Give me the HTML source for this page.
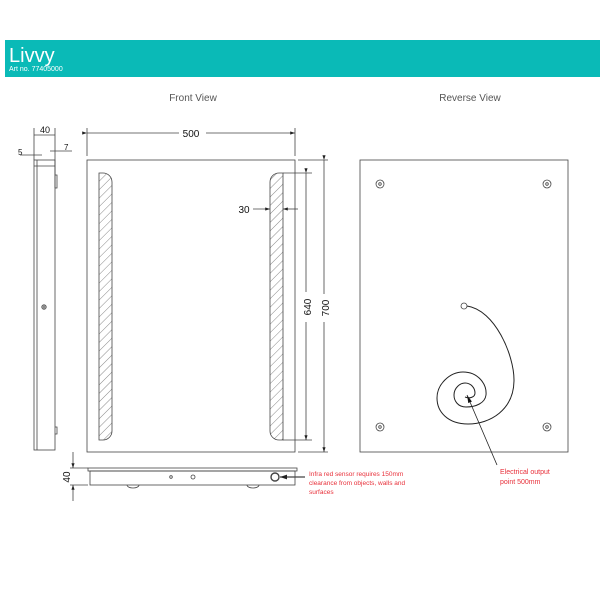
<!DOCTYPE html>
<html><head><style>
body{margin:0;width:600px;height:600px;background:#fff;overflow:hidden;font-family:"Liberation Sans",sans-serif}
</style></head><body>
<svg width="600" height="600" viewBox="0 0 600 600" xmlns="http://www.w3.org/2000/svg" font-family="Liberation Sans, sans-serif">
<defs>
<pattern id="h" width="6" height="6" patternUnits="userSpaceOnUse" patternTransform="rotate(45)">
<line x1="0" y1="0" x2="0" y2="6" stroke="#555" stroke-width="0.7"/></pattern>
<marker id="a" markerWidth="6" markerHeight="4" refX="6" refY="2" orient="auto"><path d="M0,0L6,2L0,4z" fill="#222"/></marker>
<marker id="b" markerWidth="10" markerHeight="5" refX="10" refY="2.5" orient="auto"><path d="M0,0L10,2.5L0,5z" fill="#111"/></marker>
</defs>
<rect x="5" y="40" width="595" height="37" fill="#0abab7"/>
<text x="9" y="62" font-size="20" fill="#fff">Livvy</text>
<text x="9" y="71" font-size="7" fill="#fff">Art no. 77405000</text>
<text x="193" y="101" font-size="10" fill="#555" text-anchor="middle">Front View</text>
<text x="470" y="101" font-size="10" fill="#555" text-anchor="middle">Reverse View</text>
<g stroke="#444" fill="none" stroke-width="0.8">
<rect x="34" y="160" width="21" height="290"/>
<line x1="37" y1="160" x2="37" y2="450"/>
<line x1="34" y1="166" x2="55" y2="166"/>
<path d="M55,175 h2 v13 h-2 M55,427 h2 v7 h-2"/>
<line x1="34" y1="128" x2="34" y2="160"/><line x1="55" y1="128" x2="55" y2="188"/>
<line x1="34" y1="135" x2="55" y2="135"/>
<line x1="20" y1="155" x2="42" y2="155"/><line x1="50" y1="151" x2="72" y2="151"/>
<circle cx="44" cy="307" r="2.2"/><path d="M42,307h4M44,305v4"/>
<rect x="87" y="160" width="208" height="292"/>
<path d="M99,173 h4 a9,9 0 0 1 9,9 v249 a9,9 0 0 1 -9,9 h-4 z" fill="url(#h)"/>
<path d="M283,173 h-4 a9,9 0 0 0 -9,9 v249 a9,9 0 0 0 9,9 h4 z" fill="url(#h)"/>
<line x1="87" y1="128" x2="87" y2="156"/><line x1="295" y1="128" x2="295" y2="156"/>
<line x1="87" y1="133" x2="179" y2="133" marker-start="url(#a)"/>
<line x1="206" y1="133" x2="295" y2="133" marker-end="url(#a)"/>
<line x1="283" y1="173" x2="312" y2="173"/><line x1="283" y1="440" x2="312" y2="440"/>
<line x1="306" y1="173" x2="306" y2="292" marker-start="url(#a)"/><line x1="306" y1="322" x2="306" y2="440" marker-end="url(#a)"/>
<line x1="298" y1="160" x2="328" y2="160"/><line x1="298" y1="452" x2="328" y2="452"/>
<line x1="324" y1="160" x2="324" y2="294" marker-start="url(#a)"/><line x1="324" y1="322" x2="324" y2="452" marker-end="url(#a)"/>
<line x1="253" y1="209" x2="270" y2="209" marker-end="url(#a)"/><line x1="298" y1="209" x2="283" y2="209" marker-end="url(#a)"/>
<rect x="88" y="468" width="209" height="3"/>
<rect x="90" y="471" width="205" height="14"/>
<path d="M127,485 a6,3 0 0 0 12,0 M247,485 a6,3 0 0 0 12,0"/>
<circle cx="171" cy="477" r="1.3"/><circle cx="193" cy="477" r="2"/>
<circle cx="275" cy="477" r="4" stroke-width="1.4"/>
<line x1="305" y1="477" x2="280" y2="477" marker-end="url(#a)" stroke-width="1.2"/>
<line x1="70" y1="468" x2="88" y2="468"/><line x1="70" y1="485" x2="88" y2="485"/>
<line x1="73" y1="452" x2="73" y2="468" marker-end="url(#a)"/><line x1="73" y1="501" x2="73" y2="485" marker-end="url(#a)"/>
<rect x="360" y="160" width="208" height="292"/>
<g><circle cx="380" cy="184" r="4"/><circle cx="380" cy="184" r="1.3"/>
<circle cx="547" cy="184" r="4"/><circle cx="547" cy="184" r="1.3"/>
<circle cx="380" cy="427" r="4"/><circle cx="380" cy="427" r="1.3"/>
<circle cx="547" cy="427" r="4"/><circle cx="547" cy="427" r="1.3"/></g>
<circle cx="464" cy="306" r="3"/>
<path d="M467,306 C495,310 514,355 514,380 C514,410 490,424 468,424 C448,424 437,412 437,398 C437,384 450,372 463,372 C478,372 487,384 486,395 C485,403 476,407 466,407 C458,407 454,401 454,395 C454,388 460,383 465,383 C471,383 475,388 475,393 C475,397 470,399 465,397" stroke="#222" stroke-width="1"/>
<line x1="497" y1="465" x2="467" y2="395" stroke="#222" marker-end="url(#b)"/>
</g>
<g font-size="10" fill="#111">
<text x="191" y="137" text-anchor="middle">500</text>
<text x="45" y="133" text-anchor="middle" font-size="9">40</text>
<text x="18" y="155" font-size="8">5</text>
<text x="64" y="150" font-size="8">7</text>
<text x="244" y="213" text-anchor="middle">30</text>
<text transform="translate(311,307) rotate(-90)" text-anchor="middle">640</text>
<text transform="translate(329,308) rotate(-90)" text-anchor="middle">700</text>
<text transform="translate(70,477) rotate(-90)" text-anchor="middle">40</text>
</g>
<g font-size="6.5" fill="#e8303a">
<text x="309" y="476">Infra red sensor requires 150mm</text>
<text x="309" y="485">clearance from objects, walls and</text>
<text x="309" y="494">surfaces</text>
<text x="500" y="474" font-size="7">Electrical output</text>
<text x="500" y="484" font-size="7">point 500mm</text>
</g>
</svg>
</body></html>
